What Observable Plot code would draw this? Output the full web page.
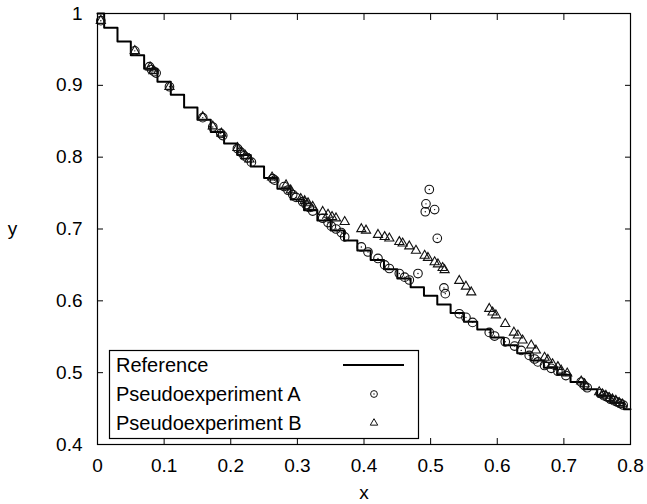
<!DOCTYPE html>
<html><head><meta charset="utf-8">
<script src="https://cdn.jsdelivr.net/npm/d3@7"></script>
<script src="https://cdn.jsdelivr.net/npm/@observablehq/plot@0.6"></script>
<style>body{margin:0;background:#fff}#chart{width:647px;height:504px}</style>
</head><body><div id="chart"></div>
<script>
// Reference curve (histogram-step, centred on grid points)
const refX = [0,0.02,0.04,0.06,0.08,0.10,0.12,0.14,0.16,0.18,0.20,0.22,0.24,0.26,0.28,0.30,0.32,0.34,0.36,0.38,0.40,0.42,0.44,0.46,0.48,0.50,0.52,0.54,0.56,0.58,0.60,0.62,0.64,0.66,0.68,0.70,0.72,0.74,0.76,0.78,0.80];
const refY = [1.000,0.980,0.961,0.942,0.923,0.905,0.887,0.869,0.852,0.835,0.819,0.803,0.787,0.771,0.756,0.741,0.726,0.712,0.698,0.684,0.670,0.657,0.644,0.631,0.619,0.607,0.595,0.583,0.571,0.560,0.549,0.538,0.527,0.517,0.507,0.497,0.487,0.477,0.468,0.458,0.449];

// Pseudoexperiment A (circles)
const aX = [0.005,0.056,0.078,0.081,0.085,0.088,0.108,0.158,0.173,0.185,0.188,0.210,0.215,0.220,0.225,0.231,0.263,0.266,0.280,0.286,0.293,0.298,0.308,0.313,0.318,0.323,0.338,0.346,0.351,0.358,0.366,0.371,0.396,0.406,0.421,0.431,0.438,0.453,0.461,0.468,0.481,0.492,0.493,0.498,0.506,0.510,0.520,0.522,0.543,0.553,0.563,0.588,0.596,0.612,0.626,0.636,0.648,0.656,0.661,0.671,0.681,0.691,0.703,0.726,0.731,0.735,0.755,0.760,0.765,0.770,0.775,0.780,0.785,0.789];
const aY = [0.990,0.948,0.926,0.922,0.919,0.917,0.898,0.855,0.842,0.833,0.830,0.812,0.807,0.802,0.799,0.793,0.770,0.768,0.759,0.754,0.748,0.744,0.738,0.734,0.730,0.725,0.715,0.709,0.704,0.700,0.695,0.689,0.675,0.668,0.659,0.650,0.645,0.638,0.633,0.629,0.638,0.724,0.735,0.755,0.727,0.687,0.618,0.610,0.582,0.577,0.570,0.556,0.551,0.543,0.537,0.531,0.524,0.519,0.515,0.510,0.506,0.502,0.496,0.487,0.482,0.479,0.471,0.468,0.466,0.463,0.461,0.459,0.457,0.455];

// Pseudoexperiment B (triangles)
const bX = [0.005,0.056,0.079,0.084,0.108,0.158,0.173,0.186,0.210,0.216,0.222,0.228,0.262,0.283,0.290,0.305,0.311,0.316,0.323,0.338,0.346,0.352,0.358,0.371,0.396,0.403,0.421,0.431,0.438,0.453,0.458,0.468,0.478,0.491,0.496,0.506,0.511,0.518,0.521,0.543,0.553,0.561,0.588,0.593,0.598,0.612,0.625,0.631,0.638,0.651,0.658,0.671,0.676,0.683,0.691,0.696,0.705,0.726,0.731,0.753,0.758,0.763,0.768,0.773,0.778,0.783,0.788];
const bY = [0.990,0.948,0.925,0.920,0.898,0.856,0.843,0.833,0.813,0.807,0.802,0.797,0.772,0.761,0.754,0.742,0.739,0.736,0.731,0.724,0.720,0.717,0.715,0.710,0.700,0.698,0.692,0.689,0.687,0.682,0.680,0.676,0.670,0.663,0.660,0.654,0.651,0.646,0.643,0.628,0.620,0.612,0.589,0.584,0.580,0.568,0.556,0.552,0.545,0.538,0.531,0.521,0.518,0.512,0.508,0.503,0.499,0.488,0.484,0.473,0.470,0.468,0.465,0.463,0.461,0.458,0.456];

const xTicks = [0,0.1,0.2,0.3,0.4,0.5,0.6,0.7,0.8];
const yTicks = [0.4,0.5,0.6,0.7,0.8,0.9,1];
const legendLabels = ["Reference","Pseudoexperiment A","Pseudoexperiment B"];

const ref = refX.map((x,i)=>({x, y: refY[i]}));
const A = aX.map((x,i)=>({x, y: aY[i]}));
const B = bX.map((x,i)=>({x, y: bY[i]}));

const FONT = "'Liberation Sans', Arial, Helvetica, sans-serif";
const fmt = d => String(+(+d).toFixed(1));
const blank = () => "";
const INK = "#111";

function legend() {
  const g = d3.create("svg:g").attr("font-family", FONT).attr("font-size", 20).attr("text-anchor", "start");
  g.append("rect").attr("x", 109.5).attr("y", 350.5).attr("width", 309).attr("height", 88)
    .attr("fill", "#fff").attr("stroke", "#000").attr("stroke-width", 1.2);
  const rowY = [365, 394, 423];
  legendLabels.forEach((t, i) => {
    g.append("text").attr("x", 116).attr("y", rowY[i]).attr("dy", "0.35em")
      .attr("text-anchor", "start").attr("fill", "#000").text(t);
  });
  g.append("line").attr("x1", 343).attr("x2", 404).attr("y1", rowY[0]).attr("y2", rowY[0])
    .attr("stroke", "#000").attr("stroke-width", 1.8);
  g.append("circle").attr("cx", 374).attr("cy", rowY[1]).attr("r", 3.4)
    .attr("fill", "none").attr("stroke", INK).attr("stroke-width", 1);
  g.append("circle").attr("cx", 374).attr("cy", rowY[1]).attr("r", 0.7).attr("fill", INK);
  g.append("path").attr("transform", `translate(374,${rowY[2]})`)
    .attr("d", d3.symbol(d3.symbolTriangle, 24)())
    .attr("fill", "none").attr("stroke", INK).attr("stroke-width", 1);
  return g.node();
}

const chart = Plot.plot({
  width: 647, height: 504,
  marginLeft: 97, marginRight: 17, marginTop: 13, marginBottom: 60,
  style: {fontFamily: FONT, fontSize: "19px", background: "#fff", color: "#000"},
  x: {domain: [0, 0.8]},
  y: {domain: [0.4, 1]},
  marks: [
    Plot.line(ref, {x: "x", y: "y", curve: "step", stroke: "#000", strokeWidth: 2}),
    Plot.dot(A, {x: "x", y: "y", r: 4.3, stroke: INK, strokeWidth: 1.1, fill: "none"}),
    Plot.dot(A, {x: "x", y: "y", r: 0.7, fill: INK, stroke: null}),
    Plot.dot(B, {x: "x", y: "y", symbol: "triangle", r: 3.4, stroke: INK, strokeWidth: 1.1, fill: "none"}),
    Plot.frame({stroke: "#000", strokeWidth: 1.2}),
    Plot.axisX({ticks: xTicks, anchor: "bottom", tickSize: 0, tickPadding: 14, tickFormat: fmt, label: null, fontSize: 19}),
    Plot.axisX({ticks: xTicks, anchor: "bottom", tickSize: 6, dy: -6, tickFormat: blank, label: null}),
    Plot.axisX({ticks: xTicks, anchor: "top", tickSize: 6, dy: 6, tickFormat: blank, label: null}),
    Plot.axisY({ticks: yTicks, anchor: "left", tickSize: 0, tickPadding: 15, tickFormat: fmt, label: null, fontSize: 19}),
    Plot.axisY({ticks: yTicks, anchor: "left", tickSize: 6, dx: 6, tickFormat: blank, label: null}),
    Plot.axisY({ticks: yTicks, anchor: "right", tickSize: 6, dx: -6, tickFormat: blank, label: null}),
    Plot.text(["x"], {frameAnchor: "bottom", dy: 54, fontSize: 19, fill: "#000"}),
    Plot.text(["y"], {frameAnchor: "left", dx: -85, textAnchor: "middle", fontSize: 19, fill: "#000"}),
    legend
  ]
});
document.getElementById("chart").appendChild(chart);
</script>
</body></html>
